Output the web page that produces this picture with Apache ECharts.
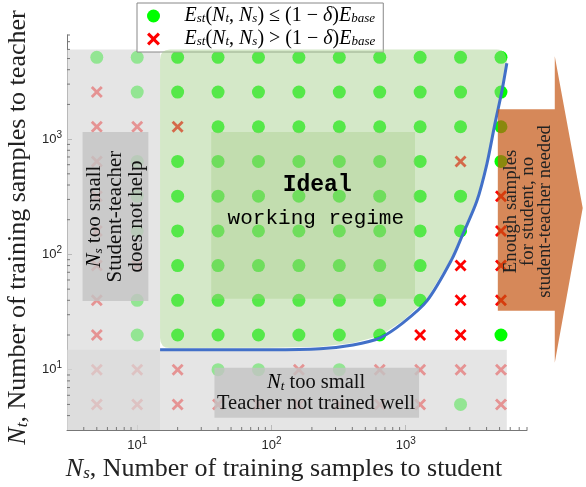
<!DOCTYPE html>
<html><head><meta charset="utf-8">
<script src="https://cdn.jsdelivr.net/npm/echarts@6/dist/echarts.min.js"></script>
<style>html,body{margin:0;padding:0;background:#fff}#c{width:586px;height:487px}</style>
</head><body><div id="c"></div>
<script>
// ---- data ----
const nsValues = [5, 10, 20, 40, 80, 160, 320, 640, 1280, 2560, 5120];
const ntValues = [5120, 2560, 1280, 640, 320, 160, 80, 40, 20, 10, 5];
// o = E_st <= (1-δ)E_base, x = E_st > (1-δ)E_base ; rows follow ntValues, columns follow nsValues
const outcome = [
  'ooooooooooo',
  'xoooooooooo',
  'xxxoooooooo',
  'xooooooooxo',
  'xooooooooox',
  'xooooooooox',
  'xxoooooooxx',
  'xooooooooxx',
  'xoooooooxxo',
  'xxxooxoxxxx',
  'xxxxxxxxxox'
];
const boundaryNs = [14.8, 98, 230, 405, 643, 953, 1438, 2207, 2663, 3385, 4020, 4610, 5200, 5660];
const boundaryNt = [14.9, 14.9, 15.2, 16.4, 18.9, 25.5, 39.5, 91, 150, 290, 608, 1349, 2606, 4550];
const axisRange = [3, 8000];
const minorTicks = [4,5,6,7,8,9,20,30,40,50,60,70,80,90,200,300,400,500,600,700,800,900,2000,3000,4000,5000,6000,7000,8000];
// annotation regions [Ns0, Nt0, Ns1, Nt1]
const grayRegions = [[3, 3, 14.8, 6000], [3, 3, 5660, 14.9]];
const greenRegion = {left: 14.8, top: 6000, bottom: 15.4};
const idealBox = [35.6, 41.2, 1172, 1150];
const textBoxes = [[3.92, 39.5, 12.1, 1150], [37.6, 3.84, 1256, 10.4]];
const arrowNs = [4850, 12880, 12880, 20800, 12880, 12880, 4850];
const arrowNt = [1820, 1820, 5240, 253, 11.5, 32.4, 32.4];

const serif = 'Liberation Serif';
const okPts = [], badPts = [];
ntValues.forEach((nt, r) => nsValues.forEach((ns, c) => {
  (outcome[r][c] === 'o' ? okPts : badPts).push([ns, nt]);
}));

const crossPath = 'path://M0,2 L2,0 L6,4 L10,0 L12,2 L8,6 L12,10 L10,12 L6,8 L2,12 L0,10 L4,6 Z';
const mathRich = {
  i: {fontFamily: serif, fontStyle: 'italic', fontSize: 20, lineHeight: 19, color: '#000'},
  n: {fontFamily: serif, fontSize: 20, lineHeight: 19, color: '#000'},
  s: {fontFamily: serif, fontStyle: 'italic', fontSize: 13, lineHeight: 11, verticalAlign: 'bottom', color: '#000'}
};
const legendText = {
  ok: '{i|E}{s|st}{n|(}{i|N}{s|t}{n|, }{i|N}{s|s}{n|) ≤ (1 − }{i|δ}{n|)}{i|E}{s|base}',
  bad: '{i|E}{s|st}{n|(}{i|N}{s|t}{n|, }{i|N}{s|s}{n|) > (1 − }{i|δ}{n|)}{i|E}{s|base}'
};

function rectLayer(rects, fill, opacity) {
  return function (params, api) {
    return {type: 'group', children: rects.map(r => {
      const p0 = api.coord([r[0], r[1]]), p1 = api.coord([r[2], r[3]]);
      return {type: 'rect', shape: {x: Math.min(p0[0], p1[0]), y: Math.min(p0[1], p1[1]),
        width: Math.abs(p1[0] - p0[0]), height: Math.abs(p1[1] - p0[1])},
        style: {fill: fill, opacity: opacity}};
    })};
  };
}
function greenRender(params, api) {
  const tl = api.coord([greenRegion.left, greenRegion.top]);
  const bl = api.coord([greenRegion.left, greenRegion.bottom]);
  const pts = boundaryNs.map((n, i) => api.coord([n, boundaryNt[i]]));
  const r = 10, last = pts[pts.length - 1];
  let d = `M${tl[0]},${tl[1] + r} Q${tl[0]},${tl[1]} ${tl[0] + r},${tl[1]} L${last[0] - r},${tl[1]} Q${last[0]},${tl[1]} ${last[0]},${last[1]}`;
  for (let i = pts.length - 2; i >= 1; i--) d += ` L${pts[i][0]},${pts[i][1] - 2}`;
  d += ` L${bl[0] + r},${bl[1]} Q${bl[0]},${bl[1]} ${bl[0]},${bl[1] - r} Z`;
  return {type: 'path', shape: {pathData: d}, style: {fill: 'rgb(170,209,145)', opacity: 0.5}};
}
function arrowRender(params, api) {
  const pts = arrowNs.map((n, i) => api.coord([n, arrowNt[i]]));
  return {type: 'polygon', shape: {points: pts}, style: {fill: 'rgb(197,86,19)', opacity: 0.7}};
}
function ticksRender(params, api) {
  const o = api.coord([axisRange[0], axisRange[0]]);
  const children = [];
  minorTicks.forEach(v => {
    const p = api.coord([v, v]);
    children.push({type: 'line', shape: {x1: p[0], y1: o[1], x2: p[0], y2: o[1] - 3}, style: {stroke: '#777', lineWidth: 1}});
    children.push({type: 'line', shape: {x1: o[0], y1: p[1], x2: o[0] + 3, y2: p[1]}, style: {stroke: '#777', lineWidth: 1}});
  });
  return {type: 'group', children};
}
const textItems = [
  {at: [6.9, 213], rot: Math.PI / 2, text: '{i|N}{s|s}{n| too small}\n{n|Student-teacher}\n{n|does not help}', lh: 21, fs: 21},
  {at: [215, 6.3], rot: 0, text: '{i|N}{s|t}{n| too small}\n{n|Teacher not trained well}', lh: 21, fs: 20.5},
  {at: [219, 400], rot: 0, text: '{b|Ideal}', lh: 24, fs: 20},
  {at: [214, 207], rot: 0, text: '{m|working regime}', lh: 22, fs: 20},
  {at: [8110, 236], rot: Math.PI / 2, text: '{a|Enough samples}\n{a|for student, no}\n{a|student-teacher needed}', lh: 17, fs: 18.8}
];
function textRender(params, api) {
  return {type: 'group', children: textItems.map(t => {
    const p = api.coord(t.at);
    return {type: 'text', x: p[0], y: p[1], rotation: t.rot, style: {
      text: t.text, align: 'center', verticalAlign: 'middle',
      rich: {
        i: {fontFamily: serif, fontStyle: 'italic', fontSize: t.fs, lineHeight: t.lh, fill: '#000'},
        n: {fontFamily: serif, fontSize: t.fs, lineHeight: t.lh, fill: '#111'},
        s: {fontFamily: serif, fontStyle: 'italic', fontSize: 13, lineHeight: 12, verticalAlign: 'bottom', fill: '#000'},
        a: {fontFamily: serif, fontSize: t.fs, lineHeight: t.lh, fill: '#222'},
        b: {fontFamily: 'Liberation Mono', fontWeight: 'bold', fontSize: 23, lineHeight: t.lh, fill: '#000'},
        m: {fontFamily: 'Liberation Mono', fontSize: 21, lineHeight: t.lh, fill: '#000'}
      }}};
  })};
}
const layer = (name, render, z) => ({type: 'custom', name, renderItem: render, data: [[10, 10]], z, clip: false, silent: true, legendHoverLink: false});

const titleRich = {
  i: {fontFamily: serif, fontStyle: 'italic', fontSize: 26, lineHeight: 25, color: '#222'},
  n: {fontFamily: serif, fontSize: 26, lineHeight: 25, color: '#222'},
  s: {fontFamily: serif, fontStyle: 'italic', fontSize: 17, lineHeight: 13, verticalAlign: 'bottom', color: '#222'}
};
const axisCommon = {
  type: 'log', logBase: 10, min: axisRange[0], max: axisRange[1],
  axisLine: {lineStyle: {color: '#777', width: 1}},
  axisTick: {inside: true, length: 5, lineStyle: {color: '#777'}},
  splitLine: {show: false},
  axisLabel: {showMinLabel: false, showMaxLabel: false,
    formatter: v => '{b|10}{e|' + Math.round(Math.log10(v)) + '}',
    rich: {
      b: {color: '#262626', fontFamily: 'Liberation Sans', fontSize: 13, lineHeight: 18},
      e: {color: '#262626', fontFamily: 'Liberation Sans', fontSize: 10, lineHeight: 11, verticalAlign: 'top'}
    }},
  nameLocation: 'middle'
};
const chart = echarts.init(document.getElementById('c'), null, {renderer: 'canvas'});
chart.setOption({
  animation: false,
  backgroundColor: '#fff',
  grid: {left: 67, right: 59, top: 35, bottom: 57, containLabel: false, outerBoundsMode: 'none'},
  xAxis: Object.assign({}, axisCommon, {name: '{i|N}{s|s}{n|, Number of training samples to student}', nameGap: 25,
    nameTextStyle: {rich: titleRich, padding: [0, 26, 0, 0]},
    axisLabel: Object.assign({}, axisCommon.axisLabel, {margin: 6})}),
  yAxis: Object.assign({}, axisCommon, {name: '{i|N}{s|t}{n|, Number of training samples to teacher}', nameGap: 32, nameRotate: 90,
    nameTextStyle: {rich: titleRich, padding: [0, 0, 0, 10]},
    axisLabel: Object.assign({}, axisCommon.axisLabel, {margin: 5})}),
  legend: {
    data: ['ok', 'bad'], left: 137, top: 3, orient: 'vertical', itemWidth: 26, itemHeight: 13, itemGap: 3,
    padding: [3, 8, 3, 10], backgroundColor: '#fff', borderColor: '#888', borderWidth: 1, borderRadius: 0,
    formatter: n => legendText[n], textStyle: {rich: mathRich, padding: [0, 0, 0, 13]}
  },
  series: [
    {type: 'scatter', name: 'ok', data: okPts, symbol: 'circle', symbolSize: 13, itemStyle: {color: '#00ff00', opacity: 1}, z: 2},
    {type: 'scatter', name: 'bad', data: badPts, symbol: crossPath, symbolSize: 12, itemStyle: {color: '#ff0000', opacity: 1}, z: 2},
    layer('gray', rectLayer(grayRegions, 'rgb(217,217,217)', 0.68), 3),
    layer('green', greenRender, 4),
    {type: 'line', name: 'boundary', data: boundaryNs.map((n, i) => [n, boundaryNt[i]]), smooth: 0.3, symbol: 'none',
      lineStyle: {color: '#4270c8', width: 3}, z: 5, silent: true},
    layer('ideal', rectLayer([idealBox], 'rgb(160,200,130)', 0.35), 6),
    layer('boxes', rectLayer(textBoxes, 'rgb(195,195,195)', 0.8), 7),
    layer('arrow', arrowRender, 8),
    layer('ticks', ticksRender, 9),
    layer('texts', textRender, 10)
  ]
});
</script></body></html>
